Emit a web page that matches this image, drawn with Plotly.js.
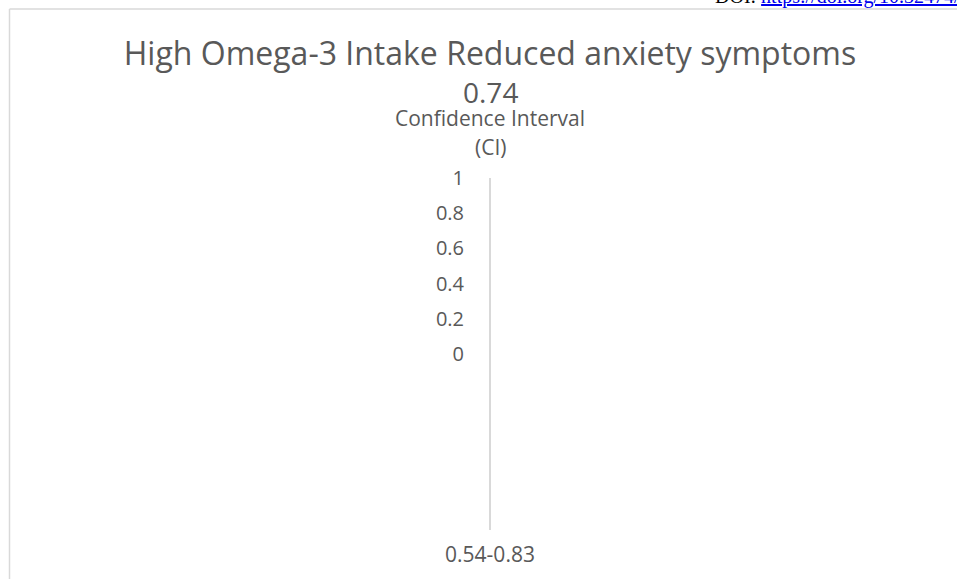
<!DOCTYPE html>
<html>
<head>
<meta charset="utf-8">
<script src="https://cdn.plot.ly/plotly-3.0.1.min.js"></script>
<style>
  html, body { margin: 0; padding: 0; background: #ffffff; }
  #chart { width: 957px; height: 579px; }
</style>
</head>
<body>
<div id="chart"></div>
<script>
// ---- data ----
const chartTitle = "High Omega-3 Intake Reduced anxiety symptoms";
const categories = ["0.54-0.83"];
const values = [0.74];
const yTickVals = [0, 0.2, 0.4, 0.6, 0.8, 1];
const yTickText = ["0", "0.2", "0.4", "0.6", "0.8", "1"];
const yAxisTitleLines = ["Confidence Interval", "(CI)"];
const doiLabel = "DOI: ";
const doiLink = "https://doi.org/10.32474/SJPBS.2024";

const grey = "#595959";
const font = "Open Sans, Noto Sans, sans-serif";

// plot area geometry (px) used to place the paper-based decorations
const L = 40, R = 17, T = 178, B = 49, W = 957, H = 579;
const pw = W - L - R, ph = H - T - B;
const px = x => (x - L) / pw;
const py = y => (H - B - y) / ph;

const traces = [{
  type: "bar",
  x: categories,
  y: values,
  marker: { color: "rgba(255,255,255,0)" },
  hoverinfo: "none",
  showlegend: false
}];

const layout = {
  width: W, height: H,
  margin: { l: L, r: R, t: T, b: B, pad: 0 },
  paper_bgcolor: "#ffffff",
  plot_bgcolor: "rgba(0,0,0,0)",
  font: { family: font, color: grey },
  showlegend: false,
  title: {
    text: chartTitle,
    font: { family: font, size: 32, color: grey },
    x: 0.5, xref: "paper", xanchor: "center",
    y: 1 - 54 / H, yref: "container", yanchor: "middle"
  },
  xaxis: {
    type: "category",
    showgrid: false, zeroline: false, showline: false,
    ticks: "", ticklabelstandoff: 10,
    tickfont: { family: font, size: 21, color: grey }
  },
  yaxis: {
    range: [-1, 1],
    anchor: "free", position: 0.5,
    showgrid: false, zeroline: false,
    showline: true, linecolor: "#d9d9d9", linewidth: 2,
    ticks: "", ticklabelstandoff: 21,
    tickvals: yTickVals, ticktext: yTickText,
    tickfont: { family: font, size: 20, color: grey }
  },
  annotations: [
    {
      xref: "paper", yref: "paper",
      x: 0.5, y: py(92), xanchor: "center", yanchor: "middle",
      text: values[0].toFixed(2),
      showarrow: false,
      font: { family: font, size: 28, color: grey }
    },
    {
      xref: "paper", yref: "paper",
      x: 0.5, y: py(118), xanchor: "center", yanchor: "middle",
      text: yAxisTitleLines[0],
      showarrow: false,
      font: { family: font, size: 21, color: grey }
    },
    {
      xref: "paper", yref: "paper",
      x: 0.5, y: py(147), xanchor: "center", yanchor: "middle",
      text: yAxisTitleLines[1],
      showarrow: false,
      font: { family: font, size: 21, color: grey }
    },
    {
      xref: "paper", yref: "paper",
      x: px(713), y: py(10), xanchor: "left", yanchor: "bottom",
      text: '<span style="color:#000000">' + doiLabel + '</span><span style="color:#0000ee"><u>' + doiLink + '</u></span>',
      showarrow: false,
      font: { family: "Liberation Serif, Times New Roman, serif", size: 20, color: "#000000" }
    }
  ],
  shapes: [
    { type: "line", xref: "paper", yref: "paper", x0: px(9.5), x1: px(960), y0: py(9), y1: py(9),
      line: { color: "#d9d9d9", width: 1.5 } },
    { type: "line", xref: "paper", yref: "paper", x0: px(9.5), x1: px(9.5), y0: py(9), y1: py(582),
      line: { color: "#d9d9d9", width: 1.5 } }
  ]
};

Plotly.newPlot("chart", traces, layout, { displayModeBar: false, staticPlot: true });
</script>
</body>
</html>
